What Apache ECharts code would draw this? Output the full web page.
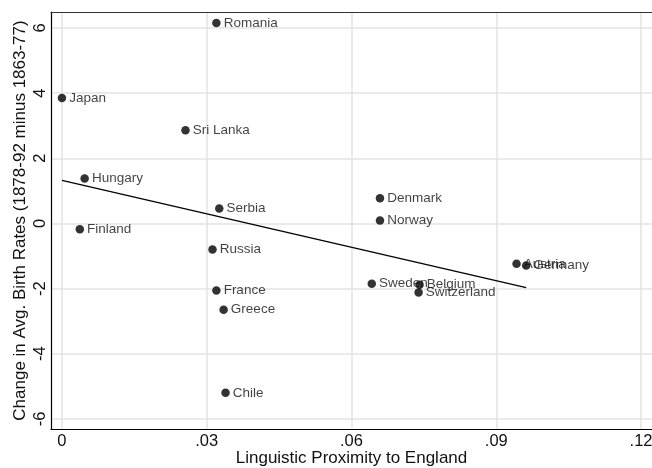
<!DOCTYPE html>
<html>
<head>
<meta charset="utf-8">
<script src="https://cdn.jsdelivr.net/npm/echarts@6/dist/echarts.min.js"></script>
<style>html,body{margin:0;padding:0;background:#fff}#c{width:652px;height:468px}</style>
</head>
<body>
<div id="c"></div>
<script>
const countries = ["Romania","Japan","Sri Lanka","Hungary","Serbia","Finland","Denmark","Norway","Russia","France","Greece","Chile","Sweden","Belgium","Switzerland","Austria","Germany"];
const proximity = [0.0320,0.0000,0.0256,0.0047,0.0326,0.0037,0.0659,0.0659,0.0312,0.0320,0.0335,0.0339,0.0642,0.0741,0.0739,0.0942,0.0962];
const birthChange = [6.15,3.85,2.86,1.38,0.46,-0.18,0.77,0.09,-0.80,-2.06,-2.65,-5.20,-1.85,-1.88,-2.12,-1.24,-1.29];
const fitX = [0.0000, 0.0962];
const fitY = [1.32, -1.97];
const xTicks = [0, 0.03, 0.06, 0.09, 0.12];
const xTickLabels = ["0", ".03", ".06", ".09", ".12"];
const yTicks = [-6, -4, -2, 0, 2, 4, 6];

const pts = countries.map((c, i) => ({ name: c, value: [proximity[i], birthChange[i]] }));
const fit = fitX.map((x, i) => [x, fitY[i]]);
const FONT = "Liberation Sans, Arial, sans-serif";
const XMIN = -0.00227, XMAX = 0.12227;

const chart = echarts.init(document.getElementById('c'), null, { renderer: 'canvas' });
chart.setOption({
  backgroundColor: '#fff',
  animation: false,
  grid: { left: 51, top: 12, right: 0, bottom: 39, show: false, containLabel: false, outerBoundsMode: 'none' },
  xAxis: [{
    type: 'value', min: XMIN, max: XMAX,
    name: 'Linguistic Proximity to England', nameLocation: 'middle', nameGap: 21, nameMoveOverlap: false,
    nameTextStyle: { fontFamily: FONT, fontSize: 17, color: '#111' },
    axisLine: { show: true, onZero: false, lineStyle: { color: '#000', width: 1.2 } },
    axisTick: { show: false, customValues: xTicks },
    axisLabel: { fontFamily: FONT, fontSize: 16.5, color: '#111', margin: 4, customValues: xTicks,
      formatter: v => { const k = xTicks.findIndex(t => Math.abs(t - v) < 1e-9); return k >= 0 ? xTickLabels[k] : ''; } },
    splitLine: { show: true, lineStyle: { color: '#e3e3e3', width: 1.5 } }
  }, {
    type: 'value', min: XMIN, max: XMAX, position: 'top',
    axisLine: { show: true, onZero: false, lineStyle: { color: '#333', width: 1.2 } },
    axisTick: { show: false }, axisLabel: { show: false }, splitLine: { show: false }
  }],
  yAxis: {
    type: 'value', min: -6.31, max: 6.49,
    name: 'Change in Avg. Birth Rates (1878-92 minus 1863-77)', nameLocation: 'middle', nameGap: 22, nameMoveOverlap: false,
    nameTextStyle: { fontFamily: FONT, fontSize: 17, color: '#111' },
    axisLine: { show: true, onZero: false, lineStyle: { color: '#000', width: 1.2 } },
    axisTick: { show: false, customValues: yTicks },
    axisLabel: { fontFamily: FONT, fontSize: 16.5, color: '#111', rotate: 90, margin: 2, customValues: yTicks,
      formatter: v => String(v) },
    splitLine: { show: true, lineStyle: { color: '#e3e3e3', width: 1.5 } }
  },
  series: [
    {
      type: 'scatter', data: pts, symbolSize: 8.5,
      itemStyle: { color: '#000' },
      label: { show: true, position: 'right', distance: 3, formatter: p => p.name,
        fontFamily: FONT, fontSize: 13.5, color: '#111' },
      z: 3
    },
    {
      type: 'line', data: fit, showSymbol: false, symbol: 'none',
      lineStyle: { color: '#000', width: 1.3 }, z: 2
    }
  ]
});
</script>
</body>
</html>
